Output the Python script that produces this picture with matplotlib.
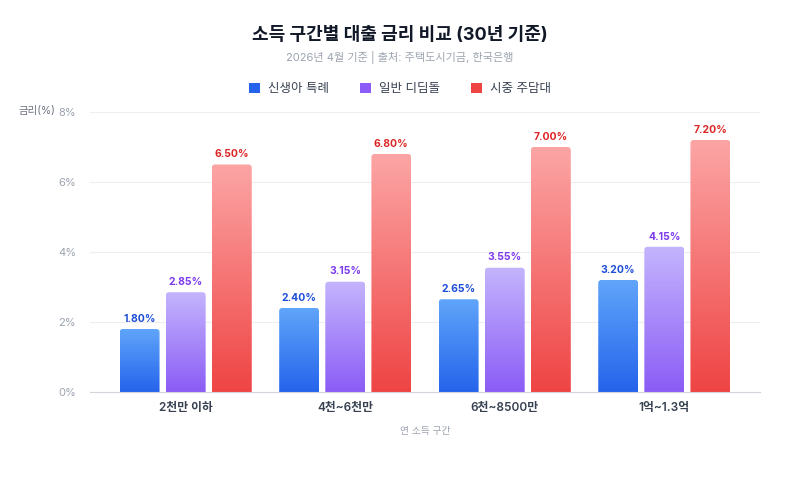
import numpy as np
import matplotlib
matplotlib.use('Agg')
from matplotlib import pyplot as plt
from matplotlib.patches import FancyBboxPatch, Patch
from matplotlib.colors import LinearSegmentedColormap

plt.rcParams['font.family'] = ['Inter', 'Noto Sans CJK KR', 'DejaVu Sans']

categories = ['2천만 이하', '4천~6천만', '6천~8500만', '1억~1.3억']
series_names = ['신생아 특례', '일반 디딤돌', '시중 주담대']
newborn = [1.80, 2.40, 2.65, 3.20]
didimdol = [2.85, 3.15, 3.55, 4.15]
bank = [6.50, 6.80, 7.00, 7.20]
yticks = [0, 2, 4, 6, 8]

series = [newborn, didimdol, bank]
# (top colour, bottom colour, label colour, legend colour)
colors = [
    ('#60a5fa', '#2563eb', '#1d4ed8', '#2563eb'),
    ('#c4b5fd', '#8b5cf6', '#7c3aed', '#8b5cf6'),
    ('#fca5a5', '#ef4444', '#dc2626', '#ef4444'),
]

fig = plt.figure(figsize=(8, 5), dpi=100)
ax = fig.add_axes([0.1125, 0.216, 0.8375, 0.56])

x = np.arange(len(categories))
width = 0.25
offset = 0.289

# px per data unit, for rounding the bar tops
px_x = 670 / 4.2
px_y = 280 / 8
r = 3.0 / px_x

for i, vals in enumerate(series):
    top, bot, lab, _ = colors[i]
    cmap = LinearSegmentedColormap.from_list('g%d' % i, [bot, top])
    for j, v in enumerate(vals):
        x0 = x[j] + (i - 1) * offset - width / 2
        patch = FancyBboxPatch((x0, -0.3), width, v + 0.3,
                               boxstyle='round,pad=0,rounding_size=%f' % r,
                               mutation_aspect=px_x / px_y,
                               facecolor='none', edgecolor='none')
        ax.add_patch(patch)
        grad = np.linspace(0, 1, 256).reshape(-1, 1)
        im = ax.imshow(grad, cmap=cmap, origin='lower', aspect='auto',
                       extent=(x0, x0 + width, 0, v), zorder=2)
        im.set_clip_path(patch)
        ax.text(x[j] + (i - 1) * offset, v + 0.15, '%.2f%%' % v,
                ha='center', va='bottom', fontsize=7.5, fontweight='bold',
                color=lab)

ax.set_xlim(-0.6, 3.6)
ax.set_ylim(0, 8)

ax.set_yticks(yticks)
ax.set_yticklabels(['%d%%' % t for t in yticks])
ax.set_xticks(x)
ax.set_xticklabels(categories)
ax.grid(axis='y', color='#eeeeee', linewidth=0.8, zorder=0)
ax.set_axisbelow(True)
for s in ['top', 'right', 'left']:
    ax.spines[s].set_visible(False)
ax.spines['bottom'].set_color('#d1d5db')
ax.tick_params(axis='y', length=0, labelsize=8, labelcolor='#9ca3af', pad=10)
ax.tick_params(axis='x', length=0, labelsize=8.5, labelcolor='#374151', pad=7)
for t in ax.get_xticklabels():
    t.set_fontweight('semibold')

ax.set_xlabel('연 소득 구간', fontsize=7, color='#9ca3af', labelpad=9)
fig.text(0.069, 0.778, '금리(%)', ha='right', va='center', fontsize=7.5,
         color='#6b7280')

fig.text(0.5, 0.928, '소득 구간별 대출 금리 비교 (30년 기준)', ha='center',
         va='center', fontsize=13, fontweight='bold', color='#111827')
fig.text(0.5, 0.886, '2026년 4월 기준 | 출처: 주택도시기금, 한국은행', ha='center',
         va='center', fontsize=8, color='#9ca3af')

handles = [Patch(facecolor=c[3], edgecolor='none') for c in colors]
fig.legend(handles, series_names, loc='center', bbox_to_anchor=(0.5, 0.822),
           ncol=3, frameon=False, fontsize=9, handlelength=0.9,
           handleheight=0.9, handletextpad=0.6, columnspacing=2.5,
           labelcolor='#374151')

fig.savefig('out.png', dpi=100, facecolor='white')
